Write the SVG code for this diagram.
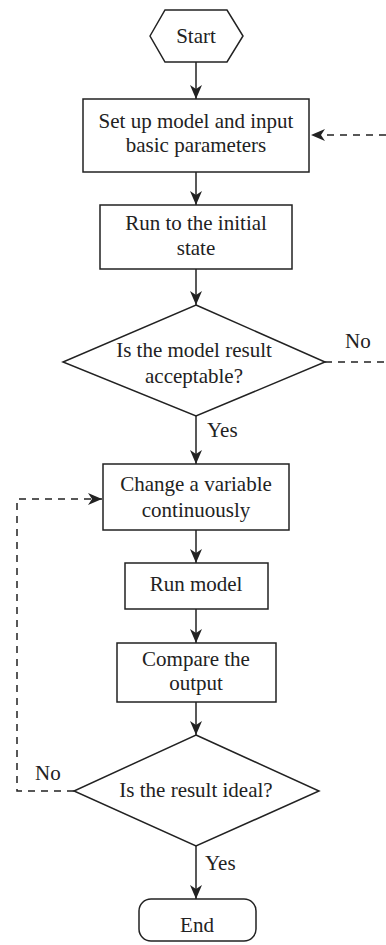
<svg xmlns="http://www.w3.org/2000/svg" width="386" height="945" viewBox="0 0 386 945">
<style>
.s{fill:#fff;stroke:#222;stroke-width:1.5}
.t{font-size:21px;fill:#222;text-anchor:middle}
.l{font-size:21px;fill:#222}
.c{fill:none;stroke:#222;stroke-width:1.5}
.d{fill:none;stroke:#222;stroke-width:1.5;stroke-dasharray:7,6}
</style>
<defs>
<marker id="a" viewBox="0 0 14 12" refX="14" refY="6" markerWidth="14" markerHeight="12" orient="auto" markerUnits="userSpaceOnUse">
<path d="M0,0 L14,6 L0,12 L4,6 Z" fill="#222"/>
</marker>
</defs>
<rect width="386" height="945" fill="#fff"/>
<g id="connectors" font-family="Liberation Serif, DejaVu Serif, serif">
<line class="c" x1="196" y1="62" x2="196" y2="99" marker-end="url(#a)"/>
<line class="c" x1="196" y1="172" x2="196" y2="205" marker-end="url(#a)"/>
<line class="c" x1="196" y1="269" x2="196" y2="305" marker-end="url(#a)"/>
<line class="c" x1="196" y1="416" x2="196" y2="464" marker-end="url(#a)"/>
<line class="c" x1="196" y1="530" x2="196" y2="563" marker-end="url(#a)"/>
<line class="c" x1="196" y1="609" x2="196" y2="643" marker-end="url(#a)"/>
<line class="c" x1="196" y1="702" x2="196" y2="735" marker-end="url(#a)"/>
<line class="c" x1="196" y1="846" x2="196" y2="899" marker-end="url(#a)"/>
<path class="d" d="M325,362 L386,362"/>
<path class="d" d="M386,135 L311,135" marker-end="url(#a)"/>
<path class="d" d="M74,791 L17,791 L17,499 L102,499" marker-end="url(#a)"/>
<text class="l" x="345" y="348">No</text>
<text class="l" x="207" y="437">Yes</text>
<text class="l" x="35" y="780">No</text>
<text class="l" x="205" y="870">Yes</text>
</g>
<g id="nodes" font-family="Liberation Serif, DejaVu Serif, serif">
<g id="start">
<polygon class="s" points="150,36 165,10 227,10 243,36 227,62 165,62"/>
<text class="t" x="196" y="43">Start</text>
</g>
<g id="setup">
<rect class="s" x="83" y="99" width="226" height="73"/>
<text class="t" x="196" y="128">Set up model and input</text>
<text class="t" x="196" y="152">basic parameters</text>
</g>
<g id="initial">
<rect class="s" x="100" y="205" width="192" height="64"/>
<text class="t" x="196" y="230">Run to the initial</text>
<text class="t" x="196" y="255">state</text>
</g>
<g id="acceptable">
<polygon class="s" points="196,305 325,362 196,416 63,362"/>
<text class="t" x="194" y="357">Is the model result</text>
<text class="t" x="194" y="383">acceptable?</text>
</g>
<g id="change">
<rect class="s" x="103" y="464" width="186" height="66"/>
<text class="t" x="196" y="491">Change a variable</text>
<text class="t" x="196" y="517">continuously</text>
</g>
<g id="runmodel">
<rect class="s" x="125" y="563" width="143" height="46"/>
<text class="t" x="196" y="591">Run model</text>
</g>
<g id="compare">
<rect class="s" x="117" y="643" width="159" height="59"/>
<text class="t" x="196" y="666">Compare the</text>
<text class="t" x="196" y="690">output</text>
</g>
<g id="ideal">
<polygon class="s" points="196,735 319,791 196,846 74,791"/>
<text class="t" x="196" y="797">Is the result ideal?</text>
</g>
<g id="end">
<rect class="s" x="139" y="899" width="117" height="42" rx="12"/>
<text class="t" x="197" y="932">End</text>
</g>
</g>
</svg>
